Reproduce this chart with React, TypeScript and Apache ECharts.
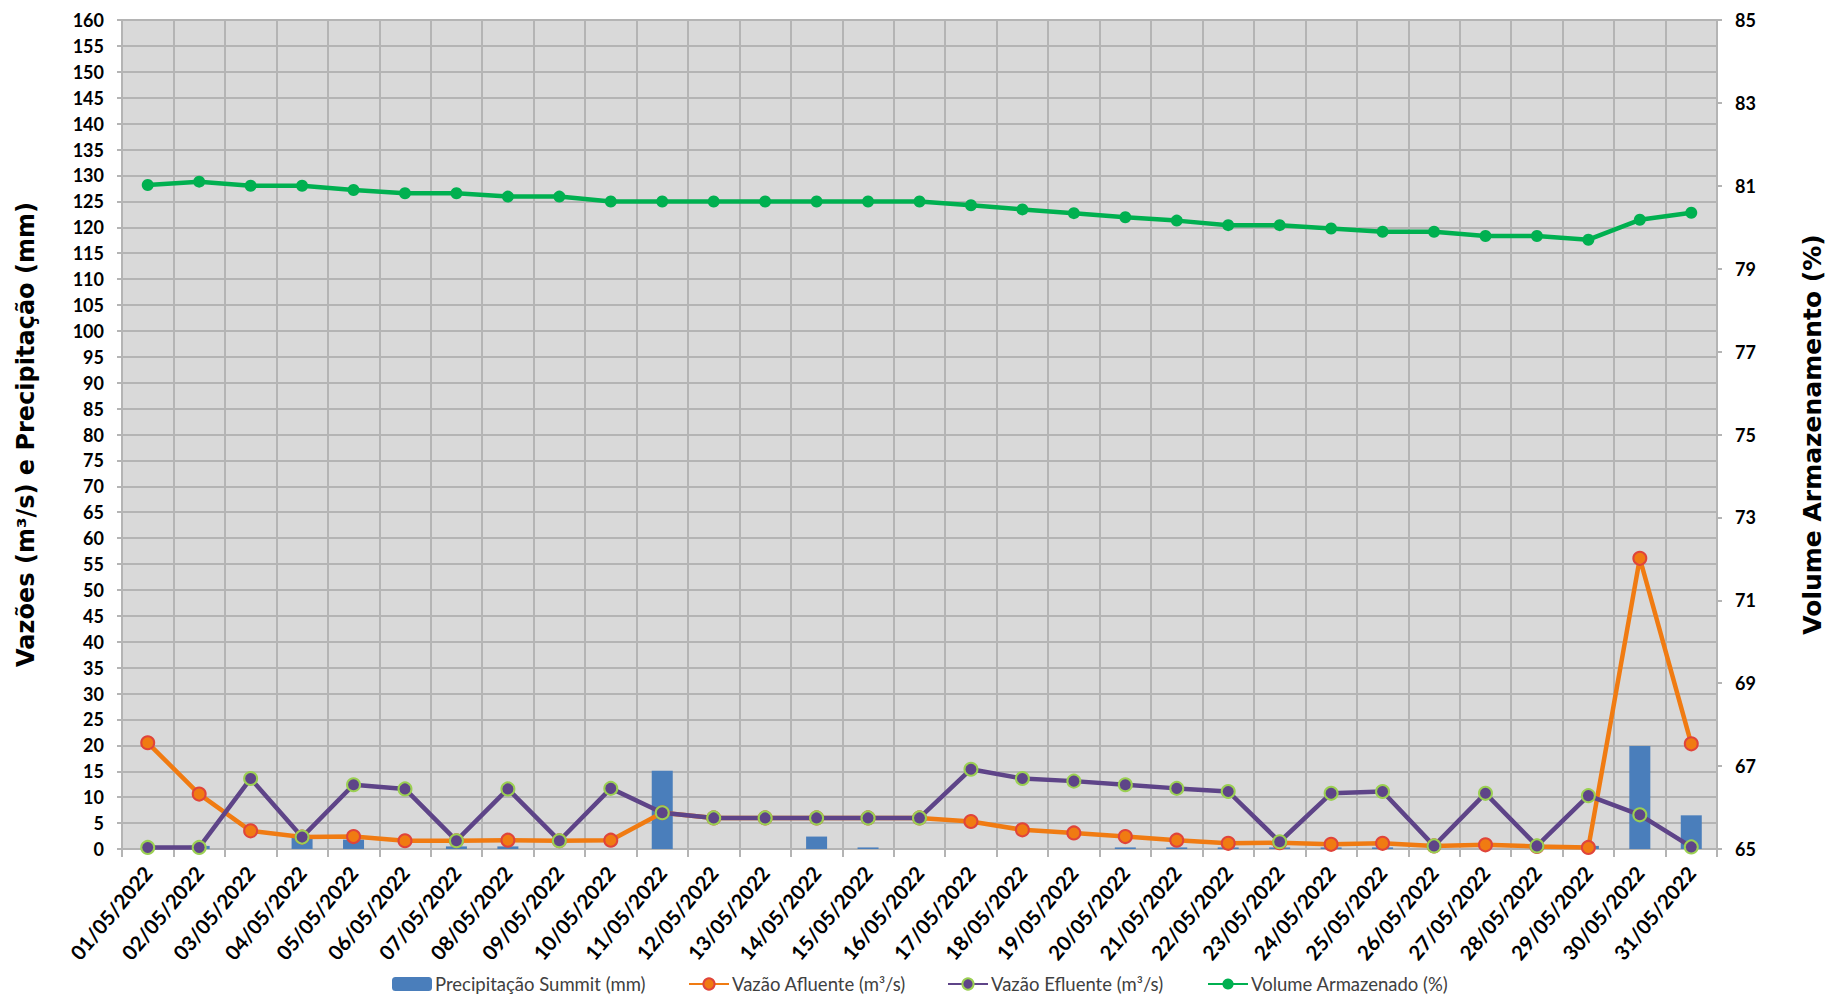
import React, { useEffect, useRef } from "react";
import * as echarts from "echarts";

const dates = [
  "01/05/2022", "02/05/2022", "03/05/2022", "04/05/2022", "05/05/2022", "06/05/2022",
  "07/05/2022", "08/05/2022", "09/05/2022", "10/05/2022", "11/05/2022", "12/05/2022",
  "13/05/2022", "14/05/2022", "15/05/2022", "16/05/2022", "17/05/2022", "18/05/2022",
  "19/05/2022", "20/05/2022", "21/05/2022", "22/05/2022", "23/05/2022", "24/05/2022",
  "25/05/2022", "26/05/2022", "27/05/2022", "28/05/2022", "29/05/2022", "30/05/2022",
  "31/05/2022",
];

const precipitacao = [
  0, 0.6, 0, 2.2, 1.8, 0, 0.5, 0.5, 0, 0, 15.1, 0, 0, 2.4, 0.3, 0, 0, 0, 0, 0.3,
  0.3, 0.3, 0.3, 0.3, 0.3, 0, 0, 0, 0.6, 19.9, 6.5,
];

const vazaoAfluente = [
  20.5, 10.6, 3.5, 2.3, 2.4, 1.6, 1.6, 1.7, 1.6, 1.7, 7.0, 6.0, 6.0, 6.0, 6.0, 6.0,
  5.3, 3.7, 3.1, 2.4, 1.7, 1.1, 1.2, 0.9, 1.1, 0.6, 0.8, 0.5, 0.3, 56.1, 20.3,
];

const vazaoEfluente = [
  0.3, 0.3, 13.6, 2.3, 12.4, 11.6, 1.6, 11.6, 1.6, 11.7, 7.0, 6.0, 6.0, 6.0, 6.0, 6.0,
  15.4, 13.6, 13.1, 12.4, 11.7, 11.1, 1.4, 10.75, 11.1, 0.6, 10.75, 0.6, 10.3, 6.6, 0.4,
];

const volumeArmazenado = [
  81.02, 81.1, 81.0, 81.0, 80.9, 80.82, 80.82, 80.74, 80.74, 80.62, 80.62, 80.62,
  80.62, 80.62, 80.62, 80.62, 80.53, 80.43, 80.34, 80.24, 80.16, 80.05, 80.05, 79.97,
  79.89, 79.89, 79.79, 79.79, 79.7, 80.18, 80.35,
];

const seriesNames = [
  "Precipitação Summit (mm)",
  "Vazão Afluente (m³/s)",
  "Vazão Efluente (m³/s)",
  "Volume Armazenado (%)",
];

const TICKFONT = "Lato, 'DejaVu Sans Condensed', sans-serif";
const TITLEFONT = "'DejaVu Sans', Verdana, sans-serif";
const GRIDC = "#b4b4b4";

export default function App() {
  const ref = useRef<HTMLDivElement>(null);
  useEffect(() => {
    if (!ref.current) return;
    const chart = echarts.init(ref.current, null, { renderer: "svg" });
    const legendLefts = [392, 688, 947, 1207];
    chart.setOption({
      animation: false,
      backgroundColor: "#ffffff",
      grid: {
        left: 122,
        right: 106,
        top: 20,
        bottom: 149,
        show: true,
        backgroundColor: "#d9d9d9",
        borderColor: GRIDC,
        borderWidth: 2,
      },
      legend: seriesNames.map((n, i) => ({
        data: [n],
        left: legendLefts[i],
        top: 973,
        padding: 0,
        itemWidth: 40,
        itemHeight: 14,
        itemGap: 5,
        textStyle: { fontFamily: TICKFONT, fontSize: 18.5, lineHeight: 22, color: "#404040", padding: [0, 0, 0, -2] },
      })),
      xAxis: {
        type: "category",
        data: dates,
        boundaryGap: true,
        axisLine: { show: true, lineStyle: { color: GRIDC, width: 2 } },
        axisTick: { show: true, length: 8, alignWithLabel: false, lineStyle: { color: GRIDC, width: 2 } },
        splitLine: { show: true, interval: 0, lineStyle: { color: GRIDC, width: 2 } },
        axisLabel: {
          interval: 0,
          rotate: 50,
          margin: 20,
          fontFamily: TICKFONT,
          fontWeight: "bold",
          fontSize: 20.5,
          color: "#000",
        },
      },
      yAxis: [
        {
          type: "value",
          min: 0,
          max: 160,
          interval: 5,
          position: "left",
          name: "Vazões (m³/s) e Precipitação (mm)",
          nameLocation: "middle",
          nameGap: 84,
          nameRotate: 90,
          nameTextStyle: { fontFamily: TITLEFONT, fontWeight: "bold", fontSize: 24, color: "#000" },
          axisLine: { show: true, lineStyle: { color: GRIDC, width: 2 } },
          axisTick: { show: true, length: 5, lineStyle: { color: GRIDC, width: 2 } },
          splitLine: { show: true, lineStyle: { color: GRIDC, width: 2 } },
          axisLabel: { margin: 18, fontFamily: TICKFONT, fontWeight: "bold", fontSize: 18, color: "#000" },
        },
        {
          type: "value",
          min: 65,
          max: 85,
          interval: 2,
          position: "right",
          name: "Volume Armazenamento (%)",
          nameLocation: "middle",
          nameGap: 83,
          nameRotate: 90,
          nameTextStyle: { fontFamily: TITLEFONT, fontWeight: "bold", fontSize: 25, color: "#000" },
          axisLine: { show: true, lineStyle: { color: GRIDC, width: 2 } },
          axisTick: { show: true, length: 5, lineStyle: { color: GRIDC, width: 2 } },
          splitLine: { show: false },
          axisLabel: { margin: 18, fontFamily: TICKFONT, fontWeight: "bold", fontSize: 18, color: "#000" },
        },
      ],
      series: [
        {
          name: seriesNames[0],
          type: "bar",
          yAxisIndex: 0,
          data: precipitacao,
          barWidth: 21,
          itemStyle: { color: "#4a7ebb" },
        },
        {
          name: seriesNames[1],
          type: "line",
          yAxisIndex: 0,
          data: vazaoAfluente,
          symbol: "circle",
          symbolSize: 13,
          lineStyle: { color: "#f07b12", width: 4.5 },
          itemStyle: { color: "#f07b12", borderColor: "#e0443a", borderWidth: 2 },
        },
        {
          name: seriesNames[2],
          type: "line",
          yAxisIndex: 0,
          data: vazaoEfluente,
          symbol: "circle",
          symbolSize: 13,
          lineStyle: { color: "#5e4488", width: 4.5 },
          itemStyle: { color: "#5e4488", borderColor: "#9bd052", borderWidth: 2 },
        },
        {
          name: seriesNames[3],
          type: "line",
          yAxisIndex: 1,
          data: volumeArmazenado,
          symbol: "circle",
          symbolSize: 12,
          lineStyle: { color: "#00b050", width: 4.5 },
          itemStyle: { color: "#00b050" },
        },
      ],
    });
    return () => chart.dispose();
  }, []);
  return (
    <div
      ref={ref}
      style={{ position: "fixed", left: 0, top: 0, width: 1833, height: 998, overflow: "hidden" }}
    />
  );
}
